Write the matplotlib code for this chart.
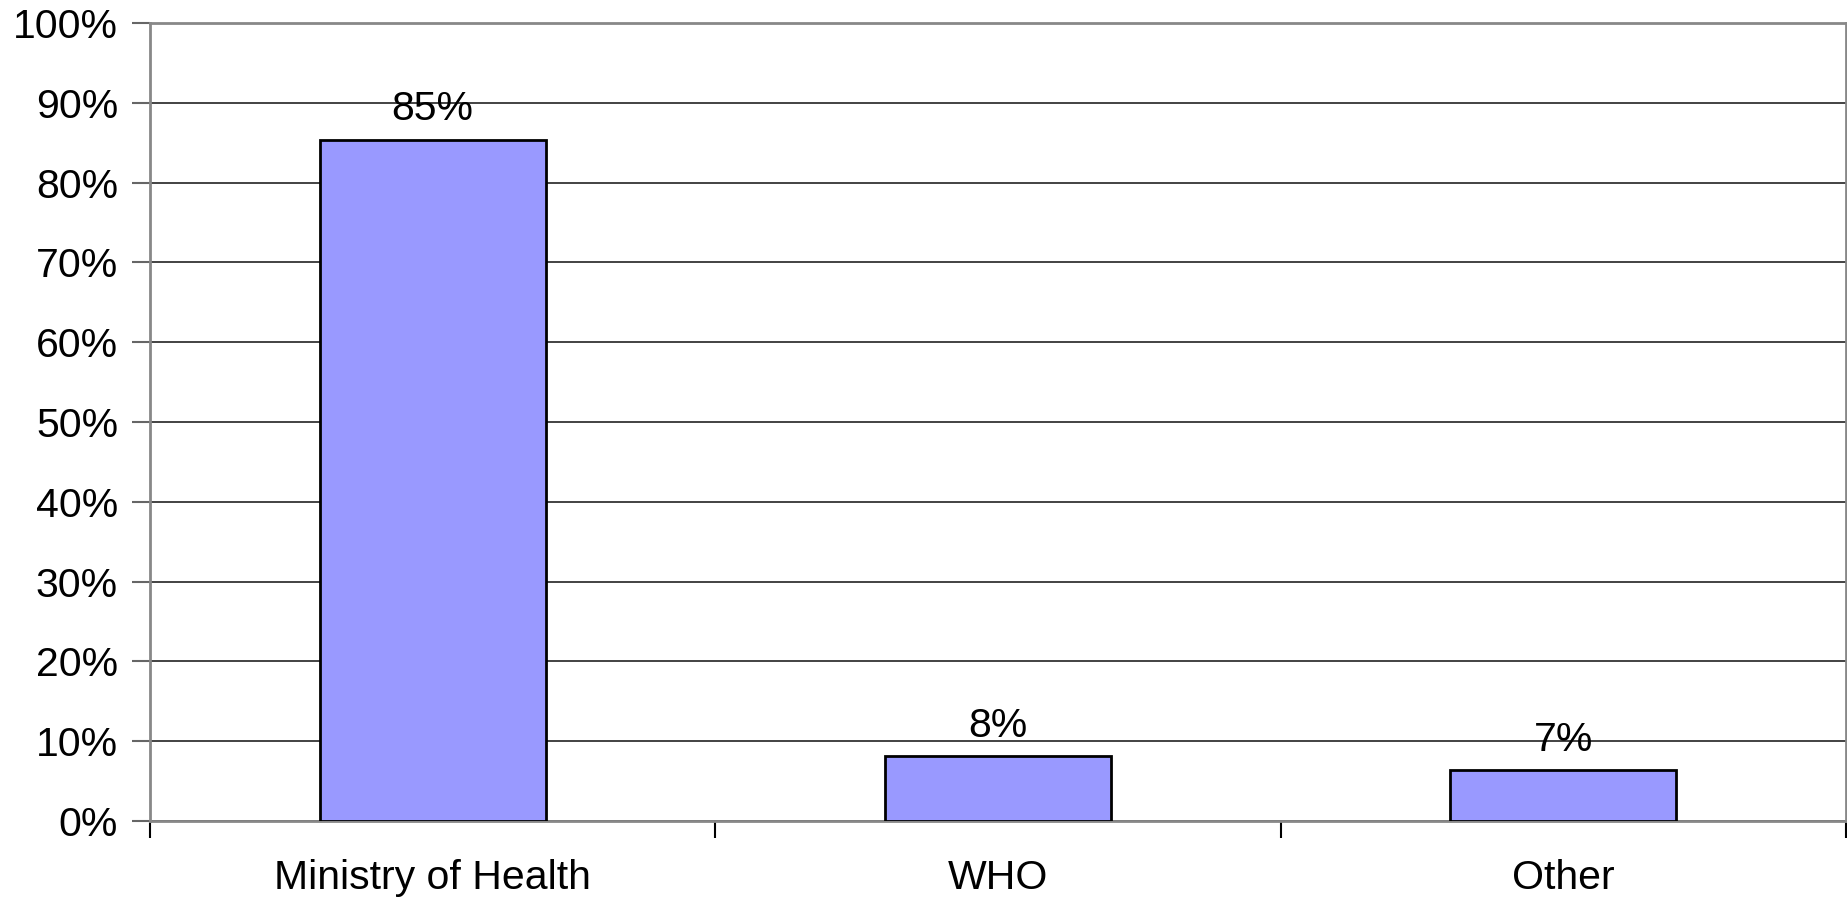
import numpy as np
from matplotlib import pyplot as plt

categories = ["Ministry of Health", "WHO", "Other"]
values = [85.4, 8.1, 6.4]
value_labels = ["85%", "8%", "7%"]
y_ticks = list(range(0, 101, 10))

plt.rcParams['font.family'] = ['Liberation Sans', 'DejaVu Sans']

fig = plt.figure(figsize=(18.47, 8.98), dpi=100)
ax = fig.add_axes([0.0812, 0.0857, 0.9183, 0.8887])

x = np.arange(len(categories))
bars = ax.bar(x, values, width=0.40, color="#9999ff", edgecolor="black",
              linewidth=2, zorder=3)

for bar, lab in zip(bars, value_labels):
    ax.text(bar.get_x() + bar.get_width() / 2, bar.get_height() + 1.4, lab,
            ha="center", va="bottom", fontsize=29.5, zorder=4)

ax.set_xlim(-0.5, len(categories) - 0.5)
ax.set_ylim(0, 100)
ax.set_yticks(y_ticks)
ax.set_yticklabels([f"{t}%" for t in y_ticks], fontsize=29.5)
ax.yaxis.grid(True, color="#222222", linewidth=1.2, zorder=1)

# category labels centred, ticks on the boundaries
ax.set_xticks(x)
ax.set_xticklabels(categories, fontsize=29.5)
ax.tick_params(axis="x", length=0, pad=27)
ax.set_xticks(np.arange(-0.5, len(categories)), minor=True)
ax.tick_params(axis="x", which="minor", length=12, width=1.5, color="black")
ax.tick_params(axis="y", length=13, width=1.5, color="#666666", pad=10)

for side in ["left", "right", "top", "bottom"]:
    ax.spines[side].set_color("#888888")
    ax.spines[side].set_linewidth(2)

fig.savefig("out.png", dpi=100)
